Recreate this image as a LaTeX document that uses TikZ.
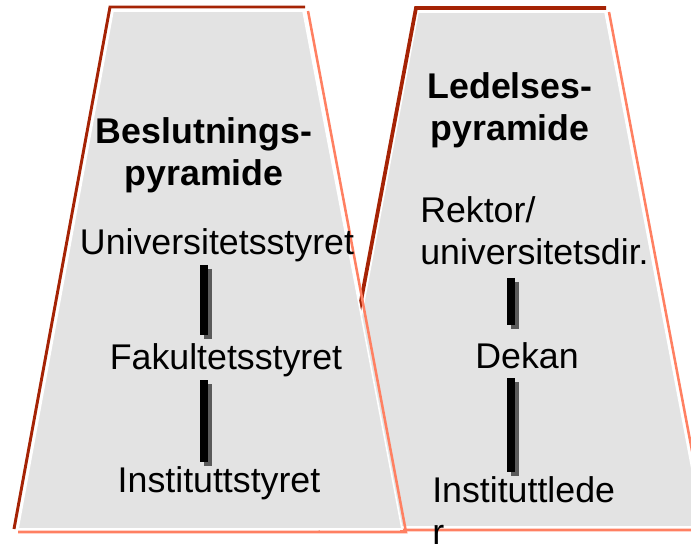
\documentclass[tikz,border=0pt]{standalone}
\usepackage{fontspec}
\setmainfont{Liberation Sans}
\usepackage{tikz}

\begin{document}
\begin{tikzpicture}[x=0.75pt,y=0.75pt,yscale=-1,xscale=1,
  darkedge/.style={draw={rgb, 255:red, 165; green, 35; blue, 5 }, line width=2.2pt, line join=miter},
  lightedge/.style={draw={rgb, 255:red, 255; green, 128; blue, 98 }, line width=1.9pt, line join=miter},
  face/.style={fill={rgb, 255:red, 227; green, 227; blue, 227 }, draw=white, line width=1.2pt},
  lbl/.style={font={\fontsize{26.8}{31.5}\selectfont}, inner sep=0pt},
  ttl/.style={font={\fontsize{26.8}{31.5}\selectfont\bfseries}, inner sep=0pt, align=center},
  bar/.style={line width=5.3pt},
  barshade/.style={line width=5.3pt, draw={rgb, 255:red, 90; green, 90; blue, 90 }}]
\useasboundingbox (0,0) rectangle (691,548);
\clip (0,0) rectangle (691,548);

%Shape: Trapezoid [right, behind] 
\draw [face] (418,12) -- (605,12) -- (703,527) -- (322,527) -- cycle ;
\draw [darkedge, line width=2.8pt] (318,530) -- (416,8) -- (606,8) ;
\draw [lightedge] (609,12) -- (707,530) -- (400,530) ;
%Shape: Trapezoid [left, front] 
\draw [face] (113,11) -- (303,11) -- (402,529) -- (18,529) -- cycle ;
\draw [darkedge] (14,529) -- (110,7) -- (305,7) ;
\draw [lightedge] (308,11) -- (406,532) -- (18,532) ;

% Text Node
\node [ttl] (besl) at (204,155) {Beslutnings-\\pyramide};
% Text Node
\node [lbl, anchor=base] (univ) at (217,255) {Universitetsstyret};
% Text Node
\node [lbl, anchor=base] (fak) at (226,369) {Fakultetsstyret};
% Text Node
\node [lbl, anchor=base] (inststyr) at (219,492) {Instituttstyret};
% Text Node
\node [ttl] (led) at (510,110) {Ledelses-\\pyramide};
% Text Node
\node [lbl, align=left, anchor=north west] (rektor) at (420,196) {Rektor/\\universitetsdir.};
% Text Node
\node [lbl, anchor=base] (dekan) at (527,368) {Dekan};
% Text Node
\node [lbl, align=left, anchor=north west] (instled) at (432,476) {Instituttlede\\r};

%Straight Lines [bar ends] 
\coordinate (l1a) at (204,265); \coordinate (l1b) at (204,335);
\coordinate (l2a) at (204,380); \coordinate (l2b) at (204,462);
\coordinate (r1a) at (511,278); \coordinate (r1b) at (511,325);
\coordinate (r2a) at (511,378); \coordinate (r2b) at (511,472);
%Straight Lines [shadow, then bar] 
\foreach \a/\b in {l1a/l1b, l2a/l2b, r1a/r1b, r2a/r2b}{
  \draw [barshade] ([shift={(4,4)}]\a) -- ([shift={(4,4)}]\b) ;
  \draw [bar] (\a) -- (\b) ;
}

\end{tikzpicture}
\end{document}
